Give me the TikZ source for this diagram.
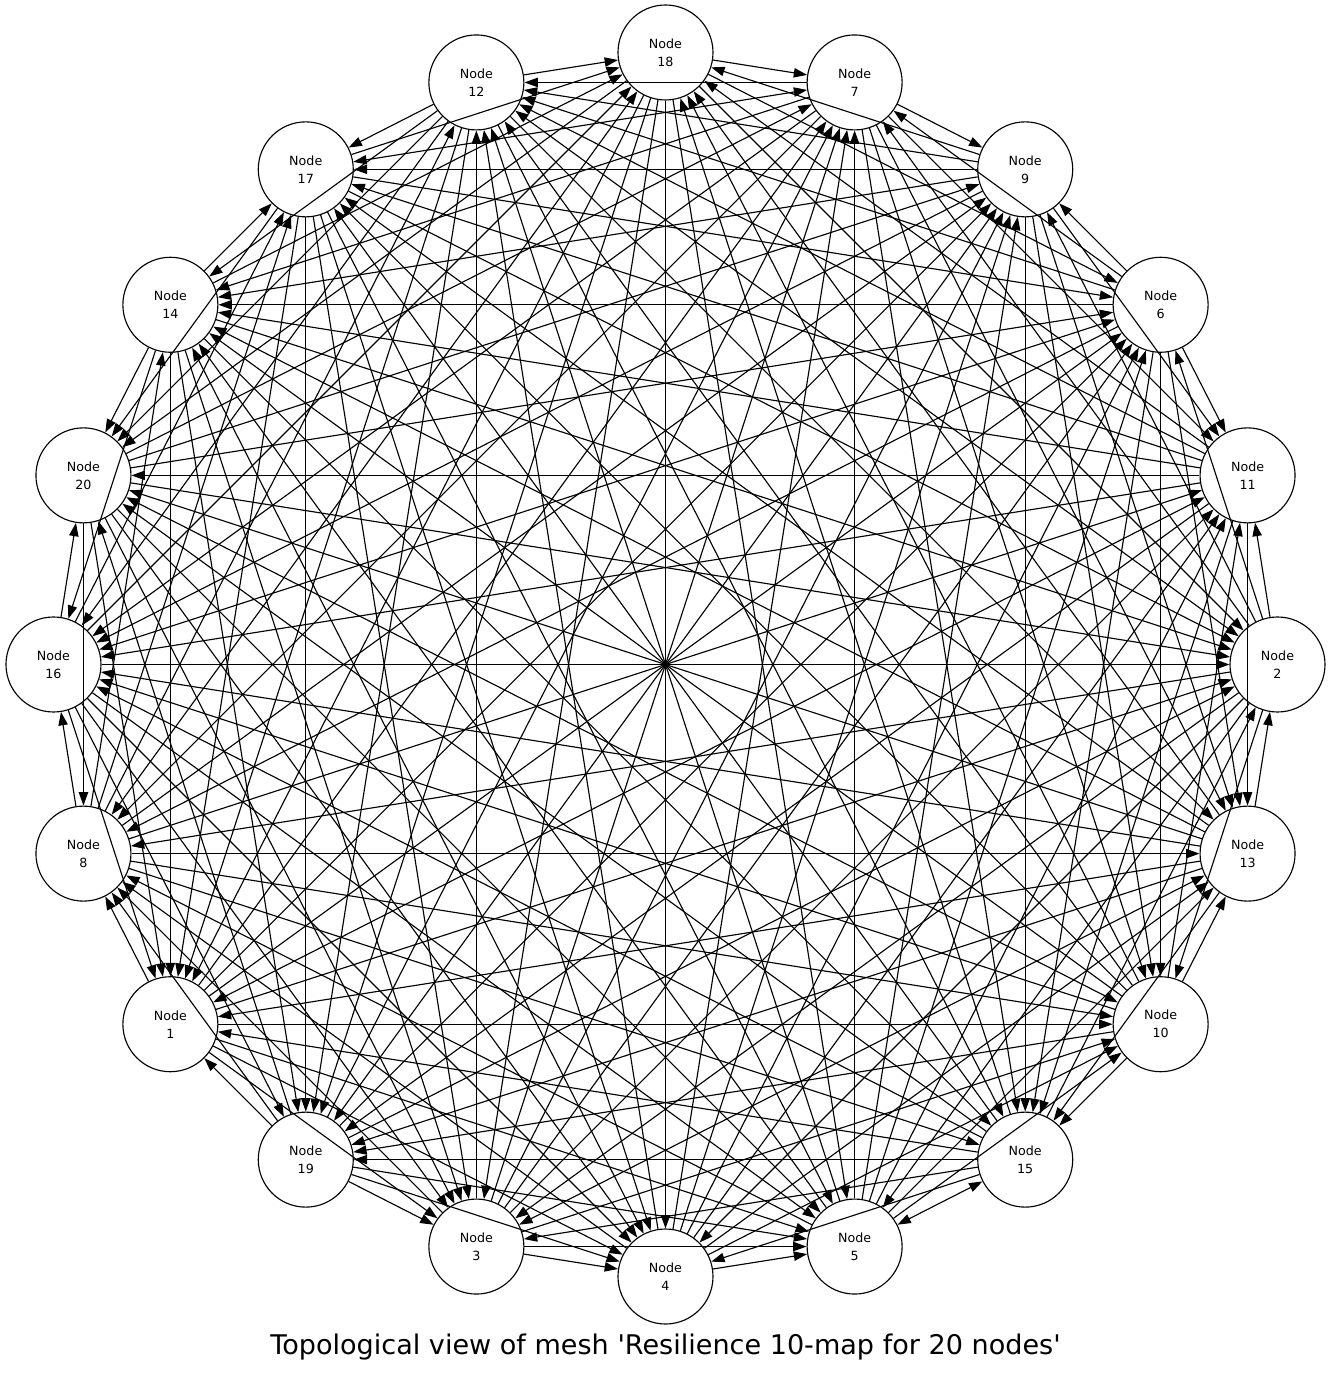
\documentclass[tikz,border=0pt]{standalone}
\usepackage{fontspec}
\setmainfont{DejaVu Sans}
\usetikzlibrary{arrows.meta}

\begin{document}
\begin{tikzpicture}[x=0.75pt, y=0.75pt,
	station/.style={circle, draw=black, line width=0.85pt, fill=white, inner sep=0pt, minimum size=71.25pt, align=center, font=\fontsize{9.5}{13.5}\selectfont},
	link/.style={-{Triangle[length=10pt, width=7pt]}, line width=0.85pt, black},
	twoway/.style={link, {Triangle[length=10pt, width=7pt]}-{Triangle[length=10pt, width=7pt]}}]
	
	\useasboundingbox (-665.5,-711.5) rectangle (666.5,664.5);
	
	% stations round the ring
	\foreach \n [count=\p from 0] in {18,7,9,6,11,2,13,10,15,5,4,3,19,1,8,16,20,14,17,12}
		\node[station] (n\n) at ({90-18*\p}:612) {Node\\\n};
	
	% every station sends to the nine after it
	\foreach \i in {1,...,20}
		\foreach \k in {1,...,9} {
			\pgfmathtruncatemacro\j{mod(\i+\k-1,20)+1}
			\draw[link] (n\i) -- (n\j);
		}
	
	% and both ways to the tenth
	\foreach \i in {1,...,10}
		\pgfmathtruncatemacro\j{\i+10}
		\draw[twoway] (n\i) -- (n\j);
	
	\node[font=\fontsize{20.3}{24}\selectfont, anchor=base] (title) at (0,-690) {Topological view of mesh \textquotesingle Resilience 10-map for 20 nodes\textquotesingle};
	\end{tikzpicture}
\end{document}
